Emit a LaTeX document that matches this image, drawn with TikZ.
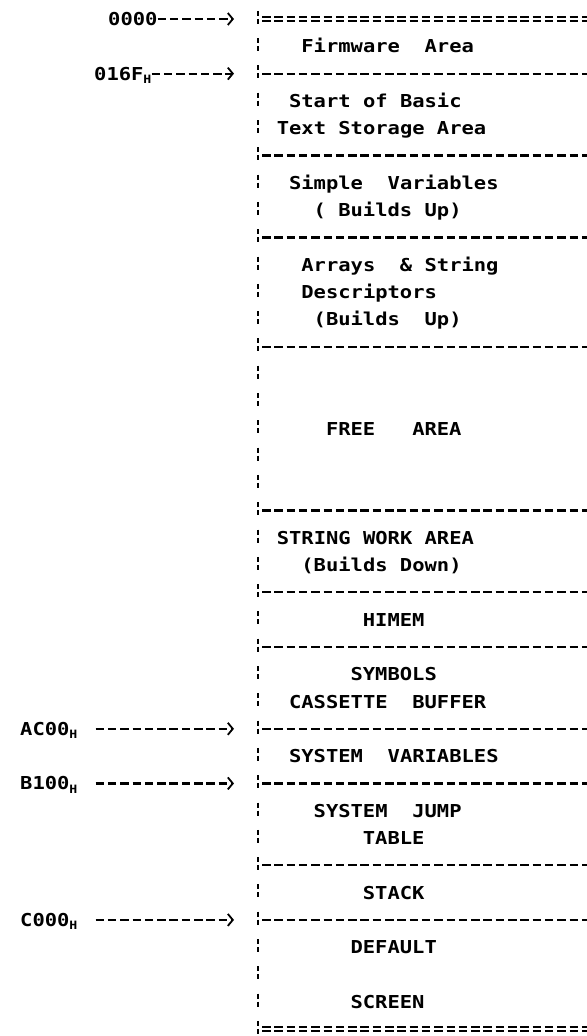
\documentclass[tikz,border=0pt]{standalone}
\usepackage{fontspec}
\setmonofont{DejaVu Sans Mono}[FakeStretch=1.15]
\usetikzlibrary{arrows.meta,positioning}
\newcommand{\hsub}{\raisebox{-3.5pt}{\fontsize{11.5}{11.5}\selectfont H}}

\begin{document}
\begin{tikzpicture}[x=1pt,y=-27.3pt,
   >={Straight Barb[length=5pt,width=12pt,line width=1.8pt]},
   txt/.style={anchor=base west,inner sep=0pt,yshift=-6.5pt,font=\ttfamily\bfseries\fontsize{17.8}{17.8}\selectfont},
   sep/.style={line width=2.2pt,dash pattern=on 8.5pt off 3.8pt},
   ptr/.style={sep,->},
   bar/.style={line width=2.4pt,dash pattern=on 5pt off 3pt on 5pt off 14.3pt}]
  \useasboundingbox (0,-0.696) rectangle (587,37.253);
  % memory column
  \draw[bar] (258,-0.3) -- (258,37.4);
  \foreach \r in {0,37}{
    \draw[sep,yshift=2.2pt] (262,\r) -- (587,\r);
    \draw[sep,yshift=-2.2pt] (262,\r) -- (587,\r);}
  \foreach \r in {2,5,8,12,18,21,23,26,28,31,33}{\draw[sep] (262,\r) -- (587,\r);}
  % areas
  \node[txt] (fw) at (301.2,1) {Firmware\ \ Area};
  \node[txt] (bas1) at (288.9,3) {Start of Basic};
  \node[txt] (bas2) at (276.6,4) {Text Storage Area};
  \node[txt] (sv1) at (288.9,6) {Simple\ \ Variables};
  \node[txt] (sv2) at (313.5,7) {( Builds Up)};
  \node[txt] (arr1) at (301.2,9) {Arrays\ \ \&\ String};
  \node[txt] (arr2) at (301.2,10) {Descriptors};
  \node[txt] (arr3) at (313.5,11) {(Builds\ \ Up)};
  \node[txt] (free) at (325.8,15) {FREE\ \ \ AREA};
  \node[txt] (sw1) at (276.6,19) {STRING WORK AREA};
  \node[txt] (sw2) at (301.2,20) {(Builds Down)};
  \node[txt] (hm) at (362.7,22) {HIMEM};
  \node[txt] (sym) at (350.4,24) {SYMBOLS};
  \node[txt] (cas) at (288.9,25) {CASSETTE\ \ BUFFER};
  \node[txt] (sysv) at (288.9,27) {SYSTEM\ \ VARIABLES};
  \node[txt] (jmp1) at (313.5,29) {SYSTEM\ \ JUMP};
  \node[txt] (jmp2) at (362.7,30) {TABLE};
  \node[txt] (stk) at (362.7,32) {STACK};
  \node[txt] (scr1) at (350.4,34) {DEFAULT};
  \node[txt] (scr2) at (350.4,36) {SCREEN};
  % addresses
  \node[txt] (a0) at (108,0) {0000};
  \node[txt] (a1) at (94,2) {016F\hsub};
  \node[txt] (a2) at (20,26) {AC00\hsub};
  \node[txt] (a3) at (20,28) {B100\hsub};
  \node[txt] (a4) at (20,33) {C000\hsub};
  \foreach \n/\r in {0/0,1/2,2/26,3/28,4/33}{\coordinate (p\n) at (234,\r);}
  \draw[ptr] (a0.east |- p0) -- (p0);
  \draw[ptr] (a1.east |- p1) -- (p1);
  \foreach \n in {2,3,4}{\draw[ptr] ([xshift=18pt]a\n.east |- p\n) -- (p\n);}
\end{tikzpicture}
\end{document}
